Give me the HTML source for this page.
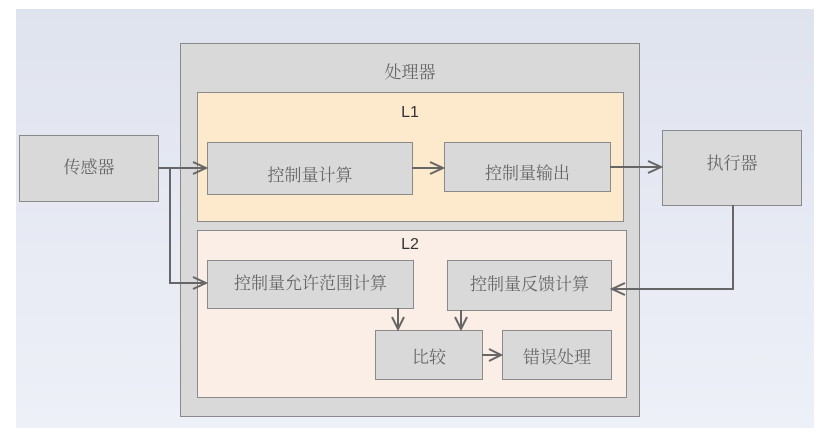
<!DOCTYPE html>
<html><head><meta charset="utf-8"><style>
body{margin:0;width:839px;height:442px;background:#fff;position:relative;overflow:hidden;font-family:"Liberation Serif","Noto Serif CJK SC",serif;}
.bg{position:absolute;left:16px;top:9px;width:798px;height:419px;background:linear-gradient(#dfe3ee,#eef0f8);}
.b{position:absolute;box-sizing:border-box;border:1px solid #8a8a8a;background:#d9d9d9;color:#666;font-size:17px;display:flex;align-items:center;justify-content:center;}
.t{position:absolute;color:#555;font-size:16px;}
svg{position:absolute;left:0;top:0;}
</style></head><body>
<div class="bg"></div>
<div class="b" style="left:180px;top:43px;width:460px;height:374px;"></div>
<div class="t" style="left:370px;top:58px;width:80px;text-align:center;font-size:17px;color:#666">处理器</div>
<div class="b" style="left:197px;top:92px;width:427px;height:130px;background:#fde9cc"></div>
<div class="t" style="left:380px;top:104px;width:60px;text-align:center;font-family:'Liberation Sans',sans-serif;color:#333">L1</div>
<div class="b" style="left:197px;top:230px;width:430px;height:168px;background:#fbeee6"></div>
<div class="t" style="left:380px;top:236px;width:60px;text-align:center;font-family:'Liberation Sans',sans-serif;color:#333">L2</div>
<div class="b" style="left:19px;top:135px;width:140px;height:67px;padding-bottom:6px">传感器</div>
<div class="b" style="left:662px;top:130px;width:140px;height:76px;padding-bottom:14px">执行器</div>
<div class="b" style="left:207px;top:142px;width:206px;height:53px;padding-top:10px">控制量计算</div>
<div class="b" style="left:444px;top:142px;width:167px;height:50px;padding-top:8px">控制量输出</div>
<div class="b" style="left:207px;top:260px;width:207px;height:49px;padding-bottom:6px">控制量允许范围计算</div>
<div class="b" style="left:447px;top:260px;width:165px;height:51px;padding-bottom:6px">控制量反馈计算</div>
<div class="b" style="left:375px;top:330px;width:108px;height:50px">比较</div>
<div class="b" style="left:502px;top:330px;width:110px;height:50px">错误处理</div>
<svg width="839" height="442" fill="none" stroke="#666" stroke-width="2">
<path d="M158 168H206M170 168V283H206M412 168H443M610 167H661M733 205V289H612M398 308V329M461 310V329M482 355H501"/>
<path d="M193 162L206 168L193 174M193 277L206 283L193 289M430 162L443 168L430 174M648 161L661 167L648 173M625 283L612 289L625 295M392 317L398 329L404 317M455 317L461 329L467 317M489 349L501 355L489 361"/>
</svg>
</body></html>
